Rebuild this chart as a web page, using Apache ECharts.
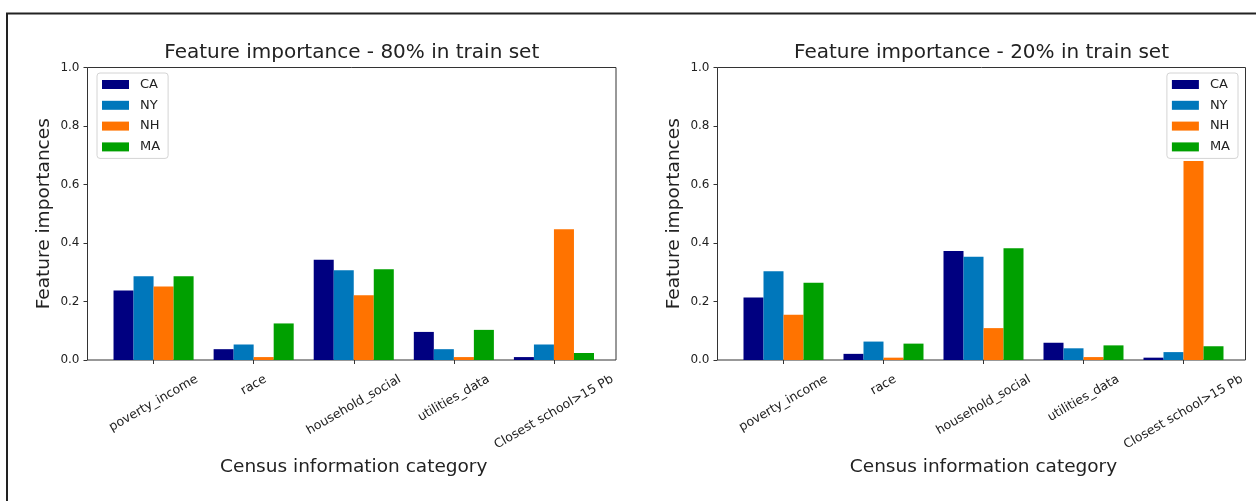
<!DOCTYPE html>
<html>
<head>
<meta charset="utf-8">
<script src="https://cdn.jsdelivr.net/npm/echarts@6/dist/echarts.min.js"></script>
<style>
  html, body { margin: 0; padding: 0; background: #ffffff; }
  #chart { width: 1256px; height: 501px; }
</style>
</head>
<body>
<div id="chart"></div>
<script>
// ---- data ----
const categories = ['poverty_income', 'race', 'household_social', 'utilities_data', 'Closest school>15 Pb'];
const states = ['CA', 'NY', 'NH', 'MA'];

// 80% of records in the training set
const train80_CA = [0.238, 0.037, 0.343, 0.096, 0.010];
const train80_NY = [0.286, 0.053, 0.307, 0.037, 0.053];
const train80_NH = [0.251, 0.010, 0.221, 0.010, 0.447];
const train80_MA = [0.286, 0.125, 0.310, 0.103, 0.024];

// 20% of records in the training set
const train20_CA = [0.214, 0.021, 0.373, 0.059, 0.008];
const train20_NY = [0.303, 0.063, 0.353, 0.040, 0.027];
const train20_NH = [0.155, 0.008, 0.109, 0.010, 0.680];
const train20_MA = [0.264, 0.056, 0.382, 0.050, 0.047];

const panelTitles = ['Feature importance - 80% in train set', 'Feature importance - 20% in train set'];
const yLabelText = 'Feature importances';
const xLabelText = 'Census information category';
const yMin = 0, yMax = 1, yStep = 0.2;

// ---- styling / layout ----
const FONT = '"DejaVu Sans", "Liberation Sans", sans-serif';
const INK = '#222222';
const stateColors = ['#000080', '#0077bb', '#ff7300', '#00a000'];
const panelData = [
  [train80_CA, train80_NY, train80_NH, train80_MA],
  [train20_CA, train20_NY, train20_NH, train20_MA]
];
const frames = [
  { left: 87.5, width: 528.5, legend: { left: 97 } },
  { left: 717.5, width: 528, legend: { right: 18 } }
];
const plotTop = 67.5, plotHeight = 292.5;
const catFontSize = 12.5;

// rotated category labels centred under their tick (text box rotated 30deg)
const measureCtx = document.createElement('canvas').getContext('2d');
measureCtx.font = catFontSize + 'px ' + FONT;
const rich = {};
categories.forEach((c, i) => {
  const L = measureCtx.measureText(c).width;
  const h = catFontSize * 1.17;
  const H = 0.5 * L + 0.866 * h;
  const d = H / 2;
  rich['c' + i] = {
    fontFamily: FONT, fontSize: catFontSize, color: INK,
    padding: [1.732 * d, d, 0, 0]
  };
});

const grid = [], xAxis = [], yAxis = [], series = [], title = [], legend = [];

frames.forEach((f, p) => {
  const band = f.width / 5.28;          // one category slot; x range is [-0.66, 4.62]
  // frame grid: spines + y axis
  grid.push({
    left: f.left, top: plotTop, width: f.width, height: plotHeight,
    show: true, borderColor: '#333333', borderWidth: 1, backgroundColor: 'transparent',
    containLabel: false
  });
  // bar grid: category slots
  grid.push({
    left: f.left + 0.16 * band, top: plotTop, width: 5 * band, height: plotHeight,
    containLabel: false
  });
  const g0 = p * 2, g1 = p * 2 + 1;

  xAxis.push({ type: 'value', gridIndex: g0, min: 0, max: 1, show: false });
  yAxis.push({
    type: 'value', gridIndex: g0, min: yMin, max: yMax, interval: yStep,
    axisLine: { show: false },
    axisTick: { show: true, length: 4, lineStyle: { color: '#333333' } },
    splitLine: { show: false },
    axisLabel: { margin: 8, fontFamily: FONT, fontSize: 12, color: INK, formatter: v => v.toFixed(1) },
    name: yLabelText, nameLocation: 'middle', nameGap: 34,
    nameTextStyle: { fontFamily: FONT, fontSize: 18.5, color: INK }
  });

  xAxis.push({
    type: 'category', gridIndex: g1, data: categories, boundaryGap: true,
    axisLine: { show: false },
    axisTick: { show: true, alignWithLabel: true, length: 4, lineStyle: { color: '#333333' } },
    axisLabel: {
      interval: 0, rotate: 30, margin: 12, align: 'center', verticalAlign: 'middle',
      formatter: (v, i) => '{c' + i + '|' + v + '}', rich: rich
    },
    name: xLabelText, nameLocation: 'middle', nameGap: 96,
    nameTextStyle: { fontFamily: FONT, fontSize: 18.5, color: INK }
  });
  yAxis.push({ type: 'value', gridIndex: g1, min: yMin, max: yMax, show: false });

  states.forEach((s, k) => {
    series.push({
      type: 'bar', name: s, xAxisIndex: g1, yAxisIndex: g1,
      data: panelData[p][k], barGap: '0%', barCategoryGap: '20%',
      itemStyle: { color: stateColors[k] }, emphasis: { disabled: true }
    });
  });

  title.push({
    text: panelTitles[p], left: f.left + f.width / 2, top: 43, textAlign: 'center', padding: 0,
    textStyle: { fontFamily: FONT, fontSize: 20, fontWeight: 'normal', color: INK }
  });

  legend.push(Object.assign({
    top: 73, orient: 'vertical', data: states, icon: 'rect',
    itemWidth: 27, itemHeight: 9, itemGap: 7.8,
    padding: [5, 8, 5, 5], backgroundColor: 'rgba(255,255,255,0.8)',
    borderColor: '#d4d4d4', borderWidth: 1, borderRadius: 3,
    textStyle: { fontFamily: FONT, fontSize: 13, color: INK, padding: [0, 0, 0, 6] },
    selectedMode: false
  }, f.legend));
});

const chart = echarts.init(document.getElementById('chart'), null, { renderer: 'canvas' });
chart.setOption({
  animation: false,
  backgroundColor: '#ffffff',
  title, legend, grid, xAxis, yAxis, series,
  graphic: [{
    type: 'rect', silent: true,
    shape: { x: 7, y: 13.5, width: 1300, height: 560 },
    style: { fill: 'none', stroke: '#222222', lineWidth: 2 }
  }]
});
</script>
</body>
</html>
